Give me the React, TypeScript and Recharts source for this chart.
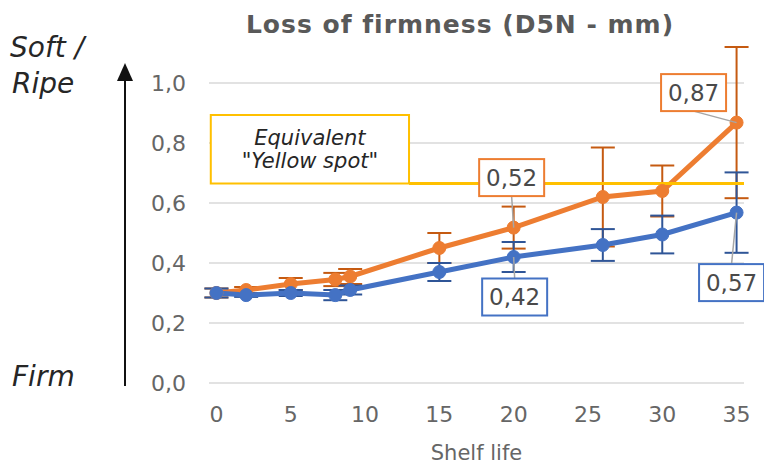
import { LineChart, Line, XAxis, YAxis, CartesianGrid, ErrorBar, LabelList, ReferenceLine, ReferenceArea, Label } from "recharts";

// shelf life (days) and D5N firmness loss (mm)
const days = [0, 2, 5, 8, 9, 15, 20, 26, 30, 35];
const orangeFirmness = [0.3, 0.31, 0.33, 0.345, 0.355, 0.45, 0.518, 0.62, 0.64, 0.868];
const orangeError = [0.015, 0.01, 0.02, 0.022, 0.025, 0.05, 0.07, 0.165, 0.085, 0.252];
const blueFirmness = [0.3, 0.293, 0.3, 0.293, 0.31, 0.37, 0.42, 0.46, 0.495, 0.568];
const blueError = [0.015, 0.006, 0.01, 0.017, 0.015, 0.03, 0.05, 0.053, 0.063, 0.134];

const xTicks = [0, 5, 10, 15, 20, 25, 30, 35];
const yTicks = [0, 0.2, 0.4, 0.6, 0.8, 1.0];
const yellowSpot = 0.665;

const ORANGE = "#ED7D31";
const BLUE = "#4472C4";
const GREY = "#666666";
const FONT = "'DejaVu Sans', sans-serif";

const data = days.map((d, i) => ({
  day: d,
  orange: orangeFirmness[i],
  orangeErr: orangeError[i],
  blue: blueFirmness[i],
  blueErr: blueError[i],
}));

const fmt = (v: number, digits: number) => v.toFixed(digits).replace(".", ",");

// where the callout boxes sit relative to their point
type Place = { dx: number; dy: number };
const orangeCallouts: Record<number, Place> = { 20: { dx: -2, dy: -50 }, 35: { dx: -43, dy: -30 } };
const blueCallouts: Record<number, Place> = { 20: { dx: 1, dy: 40 }, 35: { dx: -5, dy: 70 } };

function callout(color: string, places: Record<number, Place>) {
  return (props: any) => {
    const { x, y, index, value } = props;
    const p = places[days[index]];
    if (!p) return null;
    const w = 65;
    const h = 37;
    const cx = x + p.dx;
    const cy = y + p.dy;
    const ly = p.dy < 0 ? cy + h / 2 : cy - h / 2;
    return (
      <g>
        <line x1={cx} y1={ly} x2={x} y2={y} stroke="#A6A6A6" strokeWidth={1.5} />
        <rect x={cx - w / 2} y={cy - h / 2} width={w} height={h} fill="#fff" stroke={color} strokeWidth={2} />
        <text x={cx} y={cy + 8} textAnchor="middle" fontSize={23} fill="#4a4a4a" fontFamily={FONT}>
          {fmt(value, 2)}
        </text>
      </g>
    );
  };
}

function YellowSpotText(props: any) {
  const { x, y, width } = props.viewBox;
  const cx = x + width / 2;
  return (
    <text textAnchor="middle" fontSize={21} fill="#262626" fontFamily={FONT} fontStyle="italic">
      <tspan x={cx} y={y + 30}>Equivalent</tspan>
      <tspan x={cx} y={y + 53}>"Yellow spot"</tspan>
    </text>
  );
}

export default function App() {
  return (
    <div style={{ position: "absolute", left: 0, top: 0, width: 764, height: 468, background: "#fff" }}>
      <LineChart width={764} height={468} data={data} margin={{ top: 41, right: 20, bottom: 0, left: 0 }}>
        <CartesianGrid vertical={false} horizontalValues={yTicks} stroke="#D9D9D9" strokeWidth={1.5} />
        <XAxis
          dataKey="day"
          type="number"
          domain={[-0.5, 35.5]}
          ticks={xTicks}
          axisLine={false}
          tickLine={false}
          tickMargin={17}
          height={85}
          tick={{ fontSize: 22, fill: GREY, fontFamily: FONT }}
        >
          <Label value="Shelf life" position="insideBottom" offset={8} fontSize={21} fill={GREY} fontFamily={FONT} />
        </XAxis>
        <YAxis
          type="number"
          domain={[0, 1.14]}
          ticks={yTicks}
          width={209}
          axisLine={false}
          tickLine={false}
          tickMargin={17}
          tickFormatter={(v: number) => fmt(v, 1)}
          tick={{ fontSize: 22, fill: GREY, fontFamily: FONT }}
        />
        <ReferenceArea
          x1={-0.38}
          x2={12.96}
          y1={yellowSpot}
          y2={0.893}
          fill="#fff"
          fillOpacity={1}
          stroke="#FFC000"
          strokeWidth={2}
        >
          <Label content={YellowSpotText} />
        </ReferenceArea>
        <Line
          dataKey="orange"
          stroke={ORANGE}
          strokeWidth={5}
          dot={{ r: 6.5, fill: ORANGE, stroke: ORANGE, strokeWidth: 1 }}
          isAnimationActive={false}
        >
          <ErrorBar dataKey="orangeErr" width={12} strokeWidth={2} stroke="#C55A11" direction="y" />
          <LabelList dataKey="orange" content={callout(ORANGE, orangeCallouts)} />
        </Line>
        <Line
          dataKey="blue"
          stroke={BLUE}
          strokeWidth={5}
          dot={{ r: 6.5, fill: BLUE, stroke: BLUE, strokeWidth: 1 }}
          isAnimationActive={false}
        >
          <ErrorBar dataKey="blueErr" width={12} strokeWidth={2} stroke="#2F5597" direction="y" />
          <LabelList dataKey="blue" content={callout(BLUE, blueCallouts)} />
        </Line>
        <ReferenceLine
          segment={[
            { x: 12.96, y: yellowSpot },
            { x: 35.5, y: yellowSpot },
          ]}
          stroke="#FFC000"
          strokeWidth={3}
        />
      </LineChart>
      <svg width={764} height={468} style={{ position: "absolute", left: 0, top: 0, pointerEvents: "none" }}>
        <text x={460} y={33} textAnchor="middle" fontSize={25} fontWeight="bold" fill="#595959" fontFamily={FONT} letterSpacing={1}>
          Loss of firmness (D5N - mm)
        </text>
        <g fontFamily={FONT} fontStyle="italic" fontSize={28} fill="#262626">
          <text x={10} y={57}>Soft /</text>
          <text x={12} y={93}>Ripe</text>
          <text x={12} y={386}>Firm</text>
        </g>
        <line x1={125} y1={386} x2={125} y2={78} stroke="#111" strokeWidth={2} />
        <polygon points="125,63 117,81 133,81" fill="#111" />
      </svg>
    </div>
  );
}
